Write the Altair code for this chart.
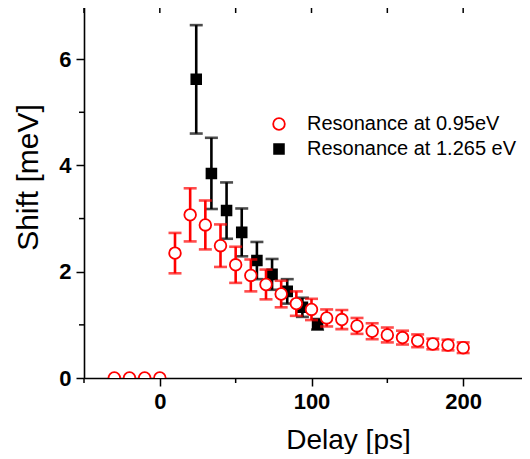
import altair as alt
import pandas as pd

# ---- data ----
series_names = ["Resonance at 0.95eV", "Resonance at 1.265 eV"]

red_delay = [-30, -20, -10, 0, 10, 20, 30, 40, 50, 60, 70, 80, 90, 100,
             110, 120, 130, 140, 150, 160, 170, 180, 190, 200]
red_shift = [0.0, 0.0, 0.0, 0.0, 2.35, 3.07, 2.88, 2.49, 2.13, 1.93, 1.76, 1.58,
             1.40, 1.29, 1.13, 1.10, 0.98, 0.88, 0.81, 0.76, 0.70, 0.64, 0.62, 0.57]
red_err = [0.02, 0.02, 0.02, 0.0, 0.38, 0.50, 0.46, 0.40, 0.34, 0.30, 0.28, 0.25,
           0.23, 0.20, 0.16, 0.18, 0.15, 0.15, 0.14, 0.13, 0.12, 0.10, 0.10, 0.10]

black_delay = [24, 34, 44, 54, 64, 74, 84, 94, 104]
black_shift = [5.62, 3.85, 3.15, 2.74, 2.21, 1.95, 1.63, 1.33, 1.01]
black_err = [1.02, 0.67, 0.53, 0.45, 0.35, 0.29, 0.23, 0.18, 0.10]

x_major = [0, 100, 200]
x_minor = [-50, 50, 150, 250]
x_top = [-50, 0, 50, 100, 150, 200, 250]
y_major = [0, 2, 4, 6]
y_minor = [1, 3, 5]

W, H = 455, 372
FONT = "Liberation Sans"

red = pd.DataFrame({"delay": red_delay, "shift": red_shift, "err": red_err})
red["series"] = series_names[0]
red["lo"] = red["shift"] - red["err"]
red["hi"] = red["shift"] + red["err"]
red_eb = red[red["err"] > 0]

black = pd.DataFrame({"delay": black_delay, "shift": black_shift, "err": black_err})
black["series"] = series_names[1]
black["lo"] = black["shift"] - black["err"]
black["hi"] = black["shift"] + black["err"]

xscale = alt.Scale(domain=[-50, 250], nice=False, zero=False)
yscale = alt.Scale(domain=[0, 7], nice=False, zero=False)

xaxis = alt.Axis(values=x_major, title="Delay [ps]", tickSize=8, labelPadding=5,
                 titleFontSize=28, titleX=264, titleY=70, titleAlign="center",
                 titleBaseline="alphabetic", grid=False)
yaxis = alt.Axis(values=y_major, title="Shift [meV]", tickSize=8, labelPadding=5,
                 titleFontSize=30, titleAngle=270, titleX=-47, titleY=171,
                 titleAlign="center", titleBaseline="alphabetic", grid=False)


def X(field):
    return alt.X(field, type="quantitative", scale=xscale, axis=xaxis)


def Y(field):
    return alt.Y(field, type="quantitative", scale=yscale, axis=yaxis)


legend = alt.Legend(title=None, orient="none", legendX=185, legendY=108)
enc_common = dict(
    shape=alt.Shape("series:N", scale=alt.Scale(domain=series_names, range=["circle", "square"]), legend=legend),
    fill=alt.Fill("series:N", scale=alt.Scale(domain=series_names, range=["white", "black"]), legend=legend),
    stroke=alt.Stroke("series:N", scale=alt.Scale(domain=series_names, range=["#ff0000", "black"]), legend=legend),
    size=alt.Size("series:N", scale=alt.Scale(domain=series_names, range=[135, 95]), legend=legend),
)


def errbars(df, color, cap):
    return alt.Chart(df).mark_errorbar(
        ticks={"size": cap, "thickness": 2.6, "color": color},
        thickness=2.6, color=color, clip=True,
    ).encode(x=X("delay"), y=Y("lo"), y2="hi")


def points(df):
    return alt.Chart(df).mark_point(filled=True, opacity=1, strokeWidth=1.8, clip=True).encode(
        x=X("delay"), y=Y("shift"), **enc_common)


tick_df_top = pd.DataFrame({"v": x_top})
tick_df_xminor = pd.DataFrame({"v": x_minor})
tick_df_yminor = pd.DataFrame({"v": y_minor})

top_line = alt.Chart(pd.DataFrame({"a": [0]})).mark_rule(color="black", strokeWidth=1.5).encode(
    x=alt.value(0), x2=alt.value(W), y=alt.value(0))
top_ticks = alt.Chart(tick_df_top).mark_rule(color="black", strokeWidth=1.5).encode(
    x=X("v"), y=alt.value(0), y2=alt.value(7))
x_minor_ticks = alt.Chart(tick_df_xminor).mark_rule(color="black", strokeWidth=1.5).encode(
    x=X("v"), y=alt.value(H), y2=alt.value(H + 5))
y_minor_ticks = alt.Chart(tick_df_yminor).mark_rule(color="black", strokeWidth=1.5).encode(
    y=Y("v"), x=alt.value(-5), x2=alt.value(0))

chart = alt.layer(
    top_line, top_ticks, x_minor_ticks, y_minor_ticks,
    errbars(black, "black", 13), points(black),
    errbars(red_eb, "#ff0000", 13), points(red),
).properties(
    width=W, height=H,
    padding={"left": 5, "top": -3, "right": -18, "bottom": 0},
).configure_view(
    stroke="transparent"
).configure_axis(
    domainColor="black", domainWidth=1.6, tickColor="black", tickWidth=1.5,
    labelFont=FONT, labelFontWeight="bold", labelFontSize=22, labelColor="black",
    titleFont=FONT, titleFontWeight="normal", titleColor="black",
).configure_legend(
    labelFont=FONT, labelFontSize=20, labelColor="black", labelOffset=18,
    labelLimit=400, rowPadding=5, padding=0, symbolStrokeWidth=1.8,
)

chart.save("out.html", embed_options={"renderer": "svg", "actions": False})
